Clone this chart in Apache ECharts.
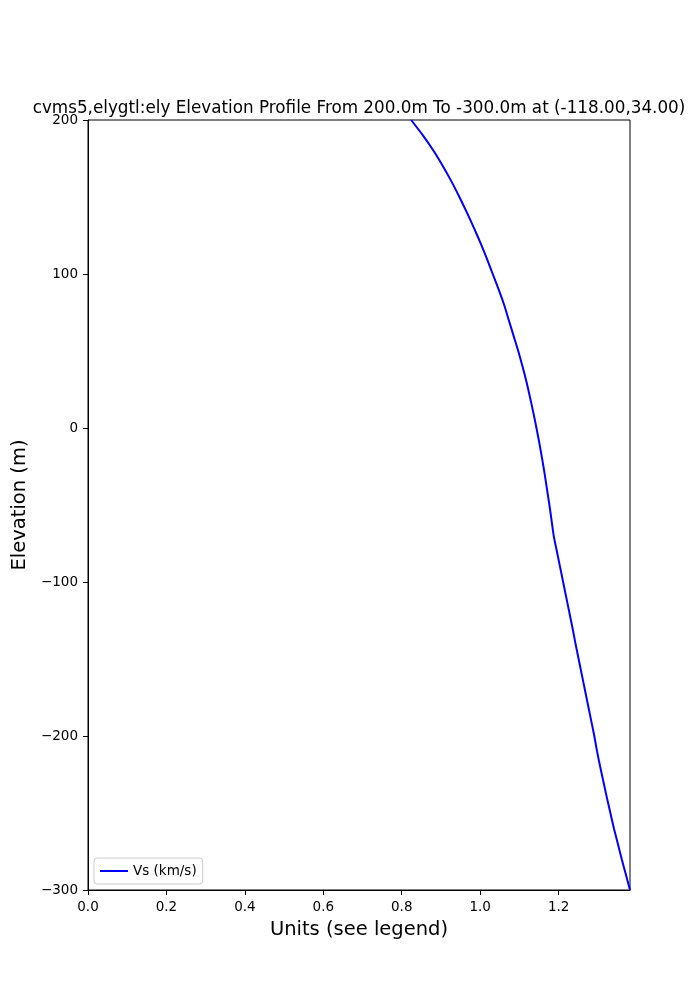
<!DOCTYPE html>
<html>
<head>
<meta charset="utf-8">
<script src="https://cdn.jsdelivr.net/npm/echarts@6/dist/echarts.min.js"></script>
<style>
html,body{margin:0;padding:0;background:#fff;}
#chart{width:700px;height:1000px;}
</style>
</head>
<body>
<div id="chart"></div>
<script>
const elevations = [200,190,180,170,160,150,140,130,120,110,100,90,80,70,60,50,40,30,20,10,0,-10,-20,-30,-40,-50,-60,-70,-80,-90,-100,-110,-120,-130,-140,-150,-160,-170,-180,-190,-200,-210,-220,-230,-240,-250,-260,-270,-280,-290,-300];
const vsValues = [0.824,0.854,0.881,0.905,0.927,0.947,0.966,0.984,1.001,1.017,1.032,1.047,1.061,1.073,1.085,1.097,1.108,1.118,1.127,1.1355,1.1435,1.151,1.158,1.1645,1.1705,1.1765,1.182,1.1875,1.1955,1.2035,1.2115,1.2195,1.2275,1.2355,1.243,1.251,1.259,1.267,1.275,1.283,1.291,1.298,1.306,1.3145,1.323,1.332,1.341,1.351,1.361,1.3715,1.382];
const xTicks = [0.0,0.2,0.4,0.6,0.8,1.0,1.2];
const yTicks = [-300,-200,-100,0,100,200];
const seriesName = 'Vs (km/s)';
const titleText = 'cvms5,elygtl:ely Elevation Profile From 200.0m To -300.0m at (-118.00,34.00)';

const chart = echarts.init(document.getElementById('chart'), null, {renderer:'canvas'});
const font = 'DejaVu Sans';
chart.setOption({
  animation:false,
  backgroundColor:'#ffffff',
  title:{
    text:titleText,
    left:354, top:95, textAlign:'center',
    textStyle:{fontFamily:font,fontSize:16.8,fontWeight:'normal',color:'#000'}
  },
  grid:{left:88,right:70,top:120,bottom:110,show:true,borderColor:'#000',borderWidth:1,backgroundColor:'transparent'},
  legend:{
    left:94, bottom:116, orient:'vertical',
    data:[seriesName],
    itemWidth:28, itemHeight:2, itemGap:5,
    padding:[6,6,6,6],
    borderColor:'#cccccc', borderWidth:1, borderRadius:3,
    backgroundColor:'rgba(255,255,255,0.8)',
    textStyle:{fontFamily:font,fontSize:13.5,color:'#000'},
    icon:'rect'
  },
  xAxis:{
    type:'value', min:0, max:1.382, interval:0.2,
    name:'Units (see legend)', nameLocation:'middle', nameGap:30,
    nameTextStyle:{fontFamily:font,fontSize:19.5,color:'#000'},
    axisLine:{show:true,onZero:false,lineStyle:{color:'#000',width:1}},
    axisTick:{show:true,length:5,lineStyle:{color:'#000'}},
    axisLabel:{fontFamily:font,fontSize:13.5,color:'#000',margin:10,showMaxLabel:false,
      formatter:function(v){return xTicks.indexOf(Math.round(v*10)/10)>=0 ? v.toFixed(1) : '';}},
    splitLine:{show:false}
  },
  yAxis:{
    type:'value', min:-300, max:200, interval:100,
    name:'Elevation (m)', nameLocation:'middle', nameGap:42, nameRotate:90,
    nameTextStyle:{fontFamily:font,fontSize:19.5,color:'#000'},
    axisLine:{show:true,onZero:false,lineStyle:{color:'#000',width:1}},
    axisTick:{show:true,length:5,lineStyle:{color:'#000'}},
    axisLabel:{fontFamily:font,fontSize:13.5,color:'#000',margin:10,
      formatter:function(v){return yTicks.indexOf(v)>=0 ? String(v).replace('-','\u2212') : '';}},
    splitLine:{show:false}
  },
  series:[{
    name:seriesName, type:'line', showSymbol:false, symbol:'none', smooth:0.2,
    lineStyle:{color:'#0000ff',width:2}, itemStyle:{color:'#0000ff'},
    clip:true,
    data:elevations.map((e,i)=>[vsValues[i],e])
  }]
});
</script>
</body>
</html>
